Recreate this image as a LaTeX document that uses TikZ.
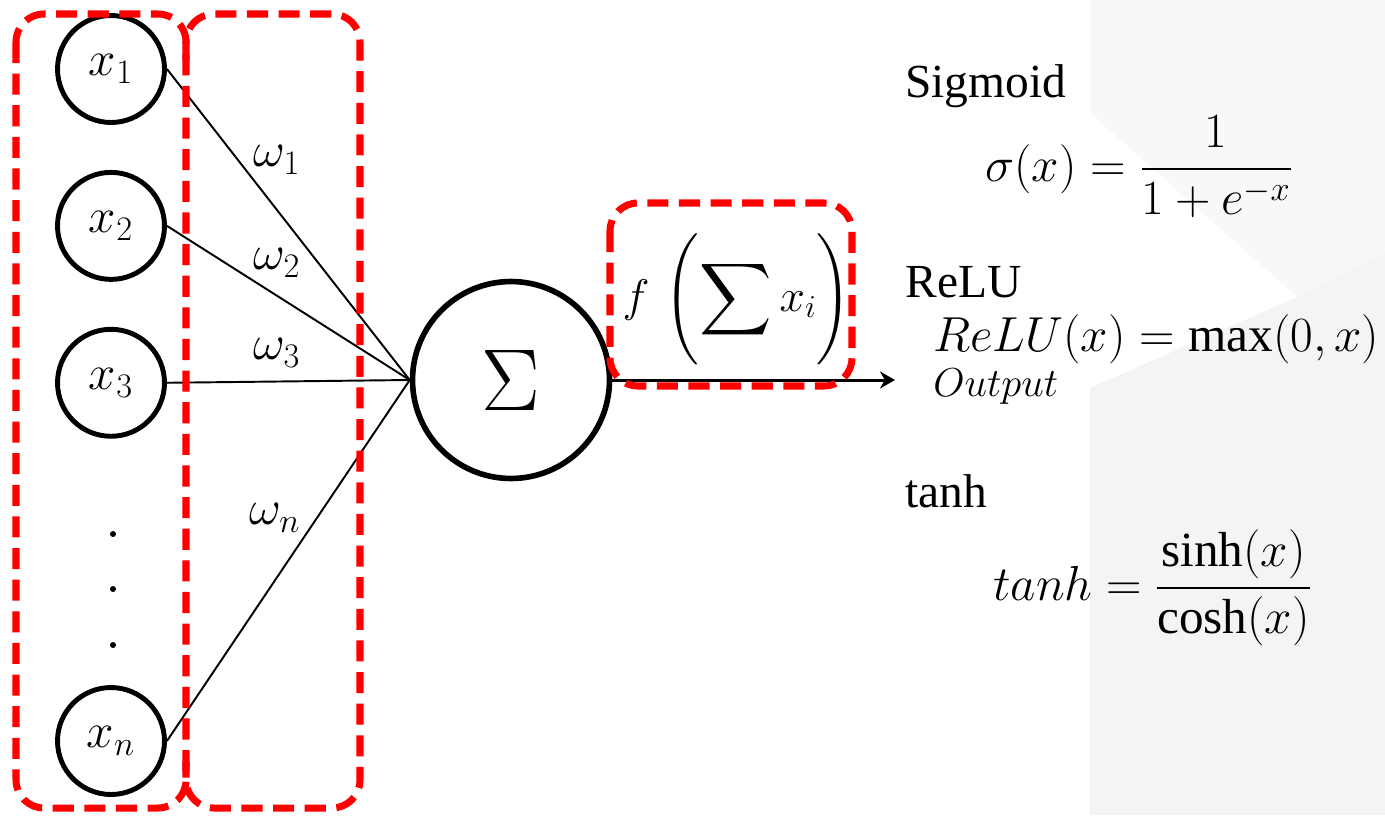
\documentclass[tikz,border=0pt]{standalone}
\usepackage{fix-cm}
\usepackage{amsmath}
\usepackage{fontspec}
\setmainfont{Liberation Serif}
\usetikzlibrary{arrows.meta, positioning}
\definecolor{bgupper}{RGB}{247,248,249}
\definecolor{bglower}{RGB}{243,244,245}
\definecolor{markred}{RGB}{255,0,0}

\begin{document}
\begin{tikzpicture}[x=0.02cm, y=-0.02cm,
  inp/.style={draw, circle, line width=2.8pt, minimum size=2.14cm, inner sep=0pt,
              font=\fontsize{28}{32}\selectfont},
  sumnode/.style={draw, circle, line width=3.2pt, minimum size=3.94cm, inner sep=0pt,
              font=\fontsize{50}{56}\selectfont},
  wlbl/.style={font=\fontsize{28}{32}\selectfont, inner sep=0pt},
  grp/.style={draw=markred, line width=4pt, dash pattern=on 12pt off 6pt,
              rounded corners=0.56cm},
  ar/.style={-{Stealth[length=3mm, width=3.4mm]}, line width=1.7pt},
  wl/.style={line width=1.1pt},
  dotn/.style={circle, fill, inner sep=0pt, minimum size=0.12cm},
  fname/.style={font=\fontsize{27}{32}\selectfont, inner sep=0pt, anchor=base west},
  eqn/.style={font=\fontsize{28}{34}\selectfont, inner sep=0pt, anchor=west}]
\useasboundingbox (0,0) rectangle (1385,815);
% backdrop on the right
\fill[bgupper] (1090,0) -- (1385,0) -- (1385,253) -- (1297,297) -- (1090,113) -- cycle;
\fill[bglower] (1090,388) -- (1297,297) -- (1385,253) -- (1385,815) -- (1090,815) -- cycle;
% inputs
\node[inp] (x1) at (111,69) {$x_1$};
\node[inp, below=0.9cm of x1] (x2) {$x_2$};
\node[inp, below=0.9cm of x2] (x3) {$x_3$};
\node[inp] (xn) at (111,741) {$x_n$};
\foreach \y [count=\i] in {534,589,645} \node[dotn] (dot\i) at (113,\y) {};
% neuron
\node[sumnode] (sum) at (511,380) {$\Sigma$};
\foreach \i in {1,2,3,n} \draw[wl](x\i.east)--(sum.west);
\node[wlbl] (w1) at (277,160) {$\omega_1$};
\node[wlbl] (w2) at (277,263) {$\omega_2$};
\node[wlbl] (w3) at (277,353) {$\omega_3$};
\node[wlbl] (wn) at (275,518) {$\omega_n$};
\coordinate (outend) at (895,380);
\draw[ar](sum.east)--(outend);
\node[font=\fontsize{26}{30}\selectfont, inner sep=0pt] (act) at (737,300)
  {$f\,\left(\vphantom{\rule[-1.1cm]{0pt}{2.2cm}}\vcenter{\hbox{\scalebox{1.15}{$\displaystyle\sum$}}}\,x_i\right)$};
% activation functions
\node[fname] (sigt) at (905,97) {Sigmoid};
\node[eqn] (sige) at (985,167) {$\sigma(x)=\dfrac{1}{1+e^{-x}}$};
\node[fname] (relut) at (905,297) {ReLU};
\node[eqn] (relue) at (933,339) {$ReLU(x)=\max(0,x)$};
\node[eqn, font=\fontsize{23}{28}\selectfont] (outl) at (933,387) {$Output$};
\node[fname] (tanht) at (905,507) {tanh};
\node[eqn] (tanhe) at (993,588) {$tanh=\dfrac{\sinh(x)}{\cosh(x)}$};
% red marks
\draw[grp] (16,14) rectangle (186,808);
\draw[grp] (186,60) -- (186,14) -- (360,14) -- (360,808) -- (186,808) -- (186,762);
\draw[grp] (610,203) rectangle (852,386);
\end{tikzpicture}
\end{document}
